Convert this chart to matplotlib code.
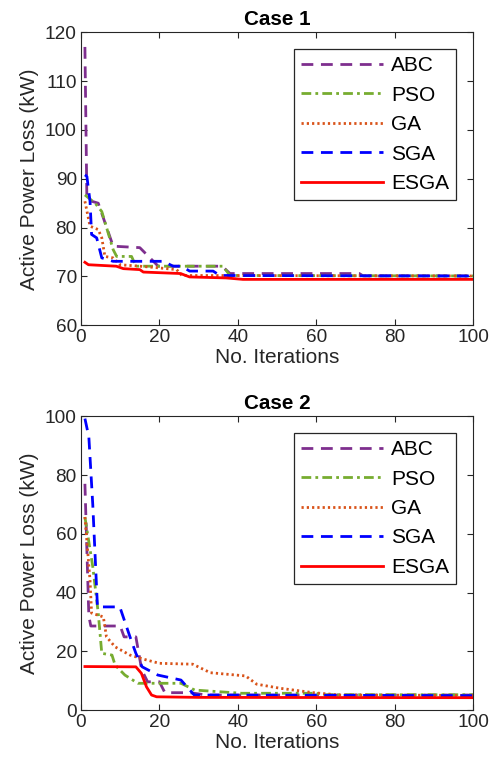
import matplotlib
matplotlib.use("Agg")
import matplotlib.pyplot as plt

plt.rcParams['font.family'] = ['Liberation Sans', 'DejaVu Sans']
plt.rcParams['lines.scale_dashes'] = False

# Case 1 convergence curves (iteration, active power loss in kW)
abc1_x = [1, 1.5, 4.4, 8.2, 15, 19.7, 36, 38, 71, 72, 100]
abc1_y = [117, 85.7, 85.0, 76.2, 75.9, 72.1, 72.1, 70.6, 70.6, 70.1, 70.1]
pso1_x = [1, 3.6, 5.3, 8.2, 9.1, 12.9, 14, 36.2, 38, 100]
pso1_y = [86.7, 85.0, 83.3, 75.5, 74.1, 74.1, 72.1, 72.1, 70.2, 70.1]
ga1_x = [1, 2.3, 4.4, 5.3, 6.1, 8.2, 9.9, 15, 19.3, 24.4, 25.7, 100]
ga1_y = [85.4, 80.3, 79.6, 77.9, 74.1, 73.8, 72.4, 72.1, 71.8, 71.4, 70.2, 70.1]
sga1_x = [1, 1.5, 2.3, 2.7, 4, 5.3, 8.2, 21, 23.5, 25.7, 27.7, 33.7, 35.4, 100]
sga1_y = [90.8, 90.5, 85.4, 78.6, 77.9, 73.8, 73.1, 73.1, 72.1, 72.1, 71.1, 71.1, 70.2, 70.1]
esga1_x = [1, 1.9, 9, 10.8, 15, 15.9, 25.4, 27.7, 37, 41.3, 100]
esga1_y = [72.9, 72.4, 72.1, 71.6, 71.4, 70.9, 70.6, 69.9, 69.7, 69.4, 69.4]

# Case 2 convergence curves
abc2_x = [1, 2, 2.5, 10, 11, 14, 15.5, 17, 20, 21.4, 27.8, 32, 100]
abc2_y = [77, 32, 28.6, 28.6, 24.9, 24.9, 13.6, 9.6, 9.6, 5.9, 5.9, 5.1, 5.1]
pso2_x = [1, 3, 4.4, 5.3, 7.9, 8.7, 11.2, 14.5, 25.5, 29, 41, 60, 62, 100]
pso2_y = [65.7, 48.8, 33, 19.3, 18.7, 15.3, 11.9, 9.1, 9.1, 6.8, 5.7, 5.7, 5.2, 5.2]
ga2_x = [1, 2.3, 2.7, 5.7, 6.5, 8.7, 12.5, 16.8, 20, 28.5, 33, 42, 44.8, 50.8, 59.3, 66, 100]
ga2_y = [65.7, 44.2, 33, 31.7, 24.9, 21.5, 18.7, 17.0, 15.9, 15.6, 12.7, 11.6, 8.8, 7.4, 5.9, 5.1, 5.0]
sga2_x = [1, 2, 3, 4.2, 9.9, 12.5, 14, 15.6, 19.6, 25.5, 28.9, 100]
sga2_y = [99.2, 93, 70, 35.1, 35.1, 24.9, 19.3, 14.7, 11.9, 10.2, 5.1, 4.9]
esga2_x = [1, 14, 15.4, 16.7, 18, 19.3, 30, 100]
esga2_y = [14.8, 14.7, 12.5, 7.9, 5.1, 4.5, 4.3, 4.2]

labels = ['ABC', 'PSO', 'GA', 'SGA', 'ESGA']
colors = ['#7E2F8E', '#77AC30', '#D95319', '#0000FF', '#FF0000']
styles = [(0, (8.5, 5.5)), (0, (7, 3, 2, 3)), (0, (1.6, 2.2)), (0, (8.5, 5.5)), '-']

cases = [
    ('Case 1', [(abc1_x, abc1_y), (pso1_x, pso1_y), (ga1_x, ga1_y), (sga1_x, sga1_y), (esga1_x, esga1_y)],
     (60, 120), range(60, 121, 10), [0.162, 0.577, 0.784, 0.381]),
    ('Case 2', [(abc2_x, abc2_y), (pso2_x, pso2_y), (ga2_x, ga2_y), (sga2_x, sga2_y), (esga2_x, esga2_y)],
     (0, 100), range(0, 101, 20), [0.162, 0.0767, 0.784, 0.382]),
]

fig = plt.figure(figsize=(5.0, 7.69), dpi=100)
gray = '#262626'
for title, series, ylim, yticks, pos in cases:
    ax = fig.add_axes(pos)
    for (xs, ys), lab, c, ls in zip(series, labels, colors, styles):
        ax.plot(xs, ys, color=c, linestyle=ls, lw=2.0, label=lab)
    ax.set_xlim(0, 100)
    ax.set_ylim(*ylim)
    ax.set_xticks(range(0, 101, 20))
    ax.set_yticks(list(yticks))
    ax.tick_params(direction='in', top=True, right=True, length=4, width=0.8,
                   labelsize=13.7, colors=gray, labelcolor=gray, pad=3)
    for s in ax.spines.values():
        s.set_color(gray)
        s.set_linewidth(0.8)
    ax.set_title(title, fontsize=14.9, fontweight='bold', pad=5)
    ax.set_xlabel('No. Iterations', fontsize=15, color=gray, labelpad=1)
    ax.set_ylabel('Active Power Loss (kW)', fontsize=15, color=gray, labelpad=4)
    leg = ax.legend(loc='upper right', fontsize=15, handlelength=3.9, handletextpad=0.4,
                    labelspacing=0.5, borderpad=0.35, borderaxespad=0.8,
                    fancybox=False, framealpha=1, edgecolor=gray)
    leg.get_frame().set_linewidth(0.9)

fig.savefig('out.png', dpi=100)
